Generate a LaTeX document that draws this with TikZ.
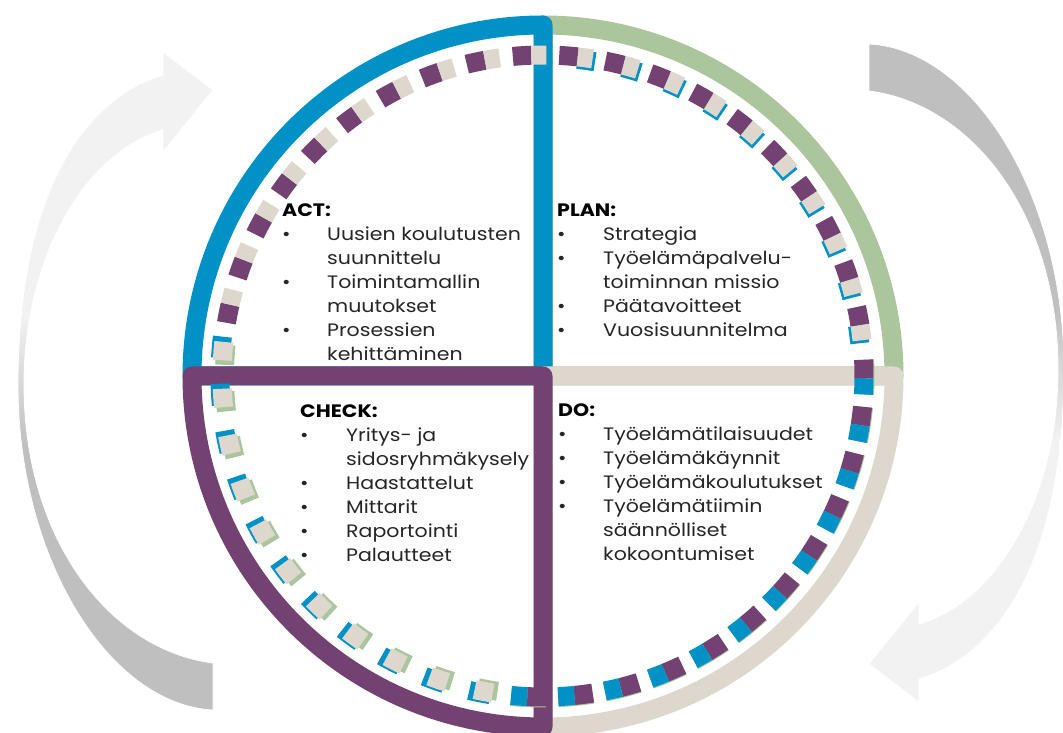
\documentclass[tikz,border=0pt]{standalone}
\usepackage{fontspec}
\setmainfont{Poppins}[FakeStretch=1.14]
\usetikzlibrary{calc}
\definecolor{actblue}{HTML}{0092C6}
\definecolor{plangreen}{HTML}{ABC59C}
\definecolor{dobeige}{HTML}{DED7CE}
\definecolor{checkpurple}{HTML}{744272}
\definecolor{arrowgray}{HTML}{BFBFBF}
\definecolor{arrowlight}{HTML}{F2F2F2}
\definecolor{itemtext}{HTML}{262626}
\pgfdeclareverticalshading{fadeup}{100bp}{color(0bp)=(arrowgray); color(45bp)=(arrowgray); color(55bp)=(arrowlight); color(100bp)=(arrowlight)}
\pgfdeclareverticalshading{fadedown}{100bp}{color(0bp)=(arrowlight); color(45bp)=(arrowlight); color(55bp)=(arrowgray); color(100bp)=(arrowgray)}
\tikzset{%
  sector/.style    = {line width=19pt, line join=round},%
  ringpart/.style  = {line width=19pt},%
  quadtext/.style  = {anchor=north west, inner sep=0pt, text=itemtext,%
                      font=\fontsize{18}{24}\selectfont},%
  cyclearrow/.style = {draw=white, line width=0.8pt}%
}
\newcommand\pdcahead[1]{\multicolumn{2}{@{}l@{}}{\textbf{\color{black}#1}}}
\newcommand\ringdash[4]{\draw[ringpart,#1] (C) ++({#3}:#2) arc[start angle={#3}, end angle={#4}, radius=#2];}

\begin{document}
\begin{tikzpicture}[x=1pt,y=1pt]
	\useasboundingbox (0,0) rectangle (1063,733);
	\coordinate (C) at (543,357);
	% turning arrows
	\shade[shading=fadeup, cyclearrow] (213,23) .. controls (110,28) and (18,173) .. (18,348)
		.. controls (18,533) and (80,633) .. (163,658) -- (163,681) -- (213,643) -- (163,581) -- (163,603)
		.. controls (90,583) and (24,483) .. (24,348) .. controls (24,193) and (110,83) .. (213,70) -- cycle;
	\shade[shading=fadedown, cyclearrow] (869,689) .. controls (972,684) and (1064,539) .. (1064,364)
		.. controls (1064,179) and (1002,79) .. (919,54) -- (919,31) -- (869,69) -- (919,131) -- (919,109)
		.. controls (992,129) and (1058,229) .. (1058,364) .. controls (1058,519) and (972,629) .. (869,642) -- cycle;
	% quadrants
	\draw[sector, plangreen] (C) -- ++(0:351pt) arc[start angle=0, end angle=90, radius=351pt] -- cycle;
	\draw[sector, actblue] (C) -- ++(90:351pt) arc[start angle=90, end angle=180, radius=351pt] -- cycle;
	\draw[sector, dobeige] (C) -- ++(-90:351pt) arc[start angle=-90, end angle=0, radius=351pt] -- cycle;
	\draw[sector, checkpurple] (C) -- ++(180:351pt) arc[start angle=180, end angle=270, radius=351pt] -- cycle;
	% dashed ring
	\foreach \k [evaluate=\k as \s using 87.1-8.3*\k] in {0,...,9}{
		\ringdash{actblue}{318.5pt}{\s-3.3}{\s-6.5}
		\ringdash{checkpurple}{321pt}{\s}{\s-3.3}
		\ringdash{dobeige}{321pt}{\s-3.3}{\s-6}
	}
	\foreach \k [evaluate=\k as \s using 95.4+8.34*\k] in {0,...,9}{
		\ringdash{checkpurple}{321pt}{\s}{\s-3.3}
		\ringdash{dobeige}{321pt}{\s-3.3}{\s-6}
	}
	\foreach \k [evaluate=\k as \s using 2.9-8.4*\k] in {0,...,11}{
		\ringdash{plangreen}{322pt}{\s}{\s-6.2}
		\ringdash{checkpurple}{321pt}{\s}{\s-3.3}
		\ringdash{actblue}{321pt}{\s-3.3}{\s-6.2}
	}
	\foreach \k [evaluate=\k as \s using -98.2-8.38*\k] in {0,...,10}{
		\ringdash{plangreen}{318.5pt}{\s}{\s-3.6}
		\ringdash{actblue}{323pt}{\s-1.2}{\s-5}
		\ringdash{dobeige}{321pt}{\s-0.8}{\s-4.1}
	}
	% texts
	\node[quadtext] (act) at (282,533) {\begin{tabular}{@{}p{45pt}@{}l@{}}
		\pdcahead{ACT:}\\
		\textbullet & Uusien koulutusten\\
		 & suunnittelu\\
		\textbullet & Toimintamallin\\
		 & muutokset\\
		\textbullet & Prosessien\\
		 & kehittäminen
		\end{tabular}};
	\node[quadtext] (plan) at (557,533) {\begin{tabular}{@{}p{46pt}@{}l@{}}
		\pdcahead{PLAN:}\\
		\textbullet & Strategia\\
		\textbullet & Työelämäpalvelu-\\
		 & toiminnan missio\\
		\textbullet & Päätavoitteet\\
		\textbullet & Vuosisuunnitelma
		\end{tabular}};
	\node[quadtext] (check) at (300,332) {\begin{tabular}{@{}p{46pt}@{}l@{}}
		\pdcahead{CHECK:}\\
		\textbullet & Yritys- ja\\
		 & sidosryhmäkysely\\
		\textbullet & Haastattelut\\
		\textbullet & Mittarit\\
		\textbullet & Raportointi\\
		\textbullet & Palautteet
		\end{tabular}};
	\node[quadtext] (do) at (558,333) {\begin{tabular}{@{}p{45pt}@{}l@{}}
		\pdcahead{DO:}\\
		\textbullet & Työelämätilaisuudet\\
		\textbullet & Työelämäkäynnit\\
		\textbullet & Työelämäkoulutukset\\
		\textbullet & Työelämätiimin\\
		 & säännölliset\\
		 & kokoontumiset
		\end{tabular}};
\end{tikzpicture}
\end{document}
